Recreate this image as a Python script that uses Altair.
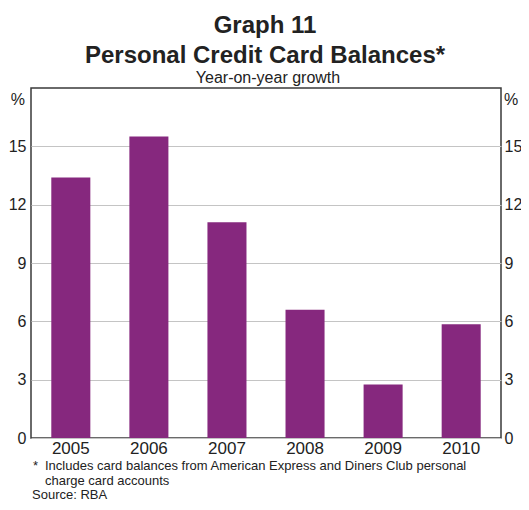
import altair as alt
import pandas as pd

years = ["2005", "2006", "2007", "2008", "2009", "2010"]
growth = [13.4, 15.5, 11.1, 6.6, 2.75, 5.85]
y_ticks = [0, 3, 6, 9, 12, 15]

title_line1 = "Graph 11"
title_line2 = "Personal Credit Card Balances*"
subtitle = "Year-on-year growth"
unit_label = "%"
foot_star = "*"
foot_line1 = "Includes card balances from American Express and Diners Club personal"
foot_line2 = "charge card accounts"
source_line = "Source: RBA"

FONT = "Liberation Sans"
TXT = "#222222"
BAR = "#86287e"

df = pd.DataFrame({"year": years, "growth": growth})

W, H = 470, 350

xscale = alt.Scale(paddingInner=0.5, paddingOuter=0.26)
xenc = alt.X("year:N", title=None, sort=years, scale=xscale,
             axis=alt.Axis(labelAngle=0, ticks=False, tickSize=0, domain=False,
                           labelFontSize=17, labelPadding=2, labelColor=TXT,
                           labelFont=FONT))

yscale = alt.Scale(domain=[0, 18], nice=False, zero=True)

bars = alt.Chart(df).mark_bar(color=BAR).encode(
    x=xenc,
    y=alt.Y("growth:Q", title=None, scale=yscale,
            axis=alt.Axis(orient="left", values=y_ticks, ticks=False, tickSize=0,
                          domain=False, grid=True, gridColor="#c4c4c4", gridWidth=1,
                          labelFontSize=16, labelPadding=5, labelColor=TXT,
                          labelFont=FONT)),
)

right_axis = alt.Chart(df).mark_bar(opacity=0).encode(
    x=alt.X("year:N", sort=years, scale=xscale),
    y=alt.Y("growth:Q", title=None, scale=yscale,
            axis=alt.Axis(orient="right", values=y_ticks, ticks=False, tickSize=0,
                          domain=False, grid=False,
                          labelFontSize=16, labelPadding=3, labelColor=TXT,
                          labelFont=FONT)),
)


def txt(s, x, y, size, weight="normal", align="left", baseline="alphabetic"):
    return alt.Chart(pd.DataFrame({"t": [s]})).mark_text(
        font=FONT, fontSize=size, fontWeight=weight, align=align,
        baseline=baseline, color=TXT,
    ).encode(text="t:N", x=alt.value(x), y=alt.value(y))


texts = [
    txt(title_line1, 234, -55, 24, "bold", "center"),
    txt(title_line2, 234, -25, 24, "bold", "center"),
    txt(subtitle, 237, -5.5, 16, "normal", "center"),
    txt(unit_label, -6, 12, 16, "normal", "right", "middle"),
    txt(unit_label, 473, 12, 16, "normal", "left", "middle"),
    txt(foot_star, 2, 382, 13),
    txt(foot_line1, 14, 382, 13),
    txt(foot_line2, 14, 396.5, 13),
    txt(source_line, 1, 411, 13),
]

chart = alt.layer(bars, right_axis, *texts).resolve_scale(
    y="independent"
).properties(
    width=W, height=H,
    autosize=alt.AutoSizeParams(type="none"),
    padding={"left": 23, "top": 80, "right": 20, "bottom": 64},
    background="white",
).configure_view(
    stroke="#3a3a3a", strokeWidth=1.5,
)

chart.save("out.html", embed_options={"renderer": "svg", "actions": False})
